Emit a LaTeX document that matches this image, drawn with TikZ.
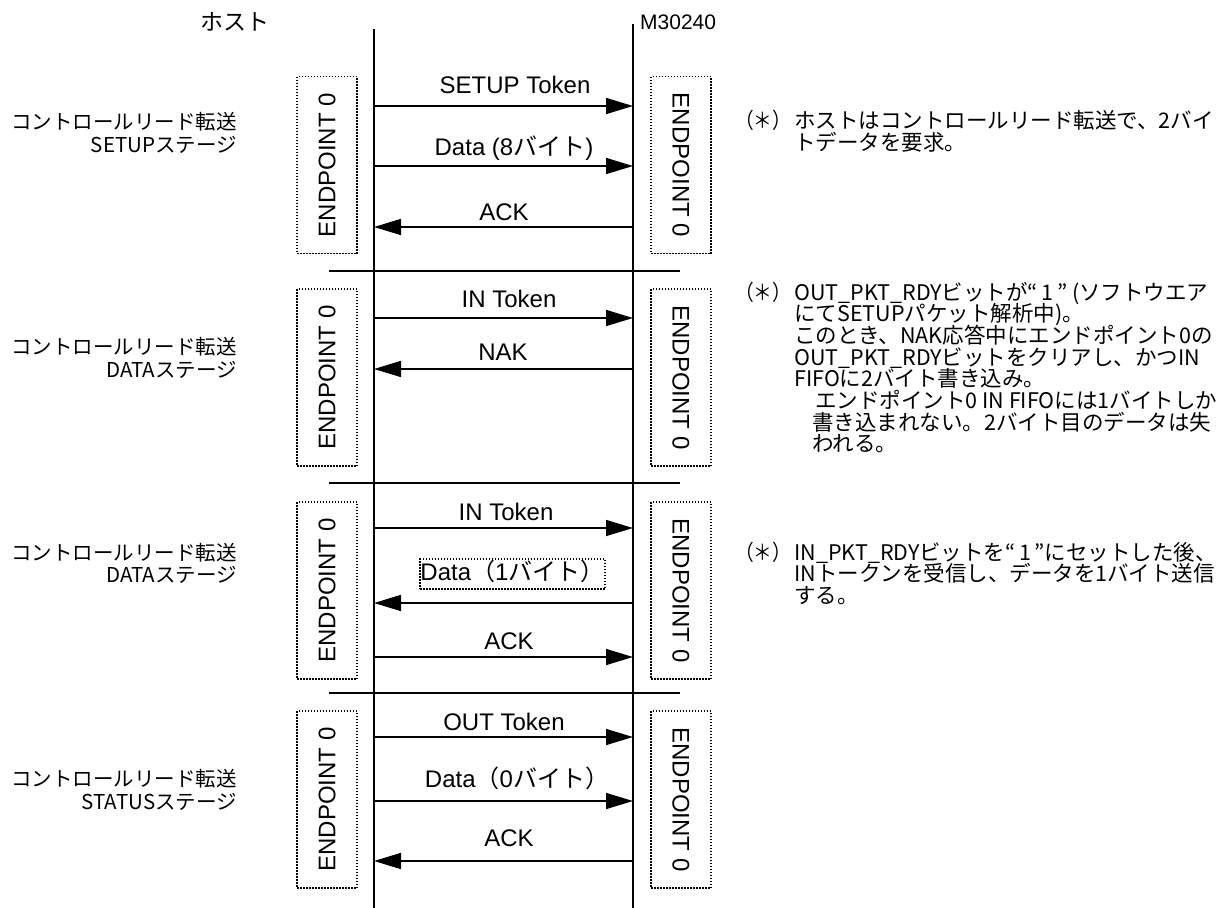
\documentclass[tikz,border=0pt]{standalone}
\usepackage{fontspec}
\setmainfont{Liberation Sans}
\newfontfamily\jp{Noto Sans CJK JP}
\usetikzlibrary{arrows.meta}
\begin{document}
\begin{tikzpicture}[x=1pt,y=-1pt,
  life/.style={line width=1.6pt},
  sepline/.style={line width=1.6pt},
  msg/.style={line width=1.6pt,-{Triangle[length=27pt,width=16pt]}},
  dotbox/.style={draw,line width=1.5pt,dash pattern=on 1.5pt off 1.5pt},
  epbox/.style={dotbox,minimum width=177pt,minimum height=60pt,inner sep=0pt,font=\fontsize{24}{28}\selectfont},
  lbl/.style={anchor=base,font=\fontsize{24}{28}\selectfont,inner sep=0pt},
  stage/.style={anchor=base east,font=\jp\fontsize{20.5}{24}\selectfont,inner sep=0pt},
  note/.style={anchor=base west,font=\jp\fontsize{21.5}{26}\selectfont,inner sep=0pt},
  star/.style={anchor=base west,font=\jp\fontsize{21.5}{26}\selectfont,inner sep=0pt},
]
\useasboundingbox (0,0) rectangle (1227,908);

% headers
\node[font=\jp\fontsize{23}{26}\selectfont,inner sep=0pt] (host) at (235,22) {ホスト};
\node[anchor=base west,font=\fontsize{21}{24}\selectfont,inner sep=0pt] (dev) at (640,29.5) {M30240};

% lifelines
\coordinate (htop) at (374,29);
\coordinate (hbot) at (374,908);
\coordinate (dtop) at (633,24);
\coordinate (dbot) at (633,908);
\draw[life] (htop) -- (hbot);
\draw[life] (dtop) -- (dbot);

% separators
\draw[sepline] (329,271) -- (680,271);
\draw[sepline] (329,483) -- (680,483);
\draw[sepline] (329,693) -- (680,693);

% endpoint boxes
\node[epbox,rotate=90] (el1) at (327,165) {ENDPOINT 0};
\node[epbox,rotate=-90] (er1) at (681,165) {ENDPOINT 0};
\node[epbox,rotate=90] (el2) at (327,377.5) {ENDPOINT 0};
\node[epbox,rotate=-90] (er2) at (681,377.5) {ENDPOINT 0};
\node[epbox,rotate=90] (el3) at (327,590.5) {ENDPOINT 0};
\node[epbox,rotate=-90] (er3) at (681,590.5) {ENDPOINT 0};
\node[epbox,rotate=90] (el4) at (327,799.5) {ENDPOINT 0};
\node[epbox,rotate=-90] (er4) at (681,799.5) {ENDPOINT 0};

% stage labels
\node[stage] (s1a) at (237,129.8) {コントロールリード転送};
\node[stage] (s1b) at (237,152.8) {SETUPステージ};
\node[stage] (s2a) at (237,354.8) {コントロールリード転送};
\node[stage] (s2b) at (237,377.8) {DATAステージ};
\node[stage] (s3a) at (237,560.8) {コントロールリード転送};
\node[stage] (s3b) at (237,582.8) {DATAステージ};
\node[stage] (s4a) at (237,786.8) {コントロールリード転送};
\node[stage] (s4b) at (237,809.8) {STATUSステージ};

% messages: section 1
\coordinate (h1) at (374,106); \coordinate (d1) at (633,106);
\coordinate (h2) at (374,166); \coordinate (d2) at (633,166);
\coordinate (h3) at (374,227); \coordinate (d3) at (633,227);
\draw[msg] (h1) -- (d1);
\draw[msg] (h2) -- (d2);
\draw[msg] (d3) -- (h3);
\node[lbl] (m1) at (515,93.5) {SETUP Token};
\node[lbl] (m2) at (514,155.5) {Data (8{\jp バイト})};
\node[lbl] (m3) at (504,220.5) {ACK};

% section 2
\coordinate (h4) at (374,318); \coordinate (d4) at (633,318);
\coordinate (h5) at (374,369); \coordinate (d5) at (633,369);
\draw[msg] (h4) -- (d4);
\draw[msg] (d5) -- (h5);
\node[lbl] (m4) at (509,307.5) {IN Token};
\node[lbl] (m5) at (503,360.5) {NAK};

% section 3
\coordinate (h6) at (374,528); \coordinate (d6) at (633,528);
\coordinate (h7) at (374,603); \coordinate (d7) at (633,603);
\coordinate (h8) at (374,657); \coordinate (d8) at (633,657);
\draw[msg] (h6) -- (d6);
\draw[msg] (d7) -- (h7);
\draw[msg] (h8) -- (d8);
\node[lbl] (m6) at (506,520.5) {IN Token};
\node[dotbox,minimum width=185pt,minimum height=30pt,inner sep=0pt,text height=17pt,text depth=5pt,font=\fontsize{24}{28}\selectfont] (m7) at (512.5,574) {Data{\jp （}1{\jp バイト）}};
\node[lbl] (m8) at (509,649.5) {ACK};

% section 4
\coordinate (h9) at (374,737); \coordinate (d9) at (633,737);
\coordinate (h10) at (374,801); \coordinate (d10) at (633,801);
\coordinate (h11) at (374,861); \coordinate (d11) at (633,861);
\draw[msg] (h9) -- (d9);
\draw[msg] (h10) -- (d10);
\draw[msg] (d11) -- (h11);
\node[lbl] (m9) at (504,730.5) {OUT Token};
\node[lbl] (m10) at (517,787.5) {Data{\jp （}0{\jp バイト）}};
\node[lbl] (m11) at (509,846.5) {ACK};

% notes
\node[star] (n1s) at (735,128) {\scalebox{0.87}[1]{（＊）}};
\node[note] (n1a) at (794,128) {ホストはコントロールリード転送で、2バイ};
\node[note] (n1b) at (794,150) {トデータを要求。};

\node[star] (n2s) at (735,300) {\scalebox{0.87}[1]{（＊）}};
\node[note] (n2a) at (794,300) {OUT\_PKT\_RDYビットが“\,1\,” (ソフトウエア};
\node[note] (n2b) at (794,321) {にてSETUPパケット解析中)。};
\node[note] (n2c) at (794,343) {このとき、NAK応答中にエンドポイント0の};
\node[note] (n2d) at (794,365) {OUT\_PKT\_RDYビットをクリアし、かつIN};
\node[note] (n2e) at (794,386) {FIFOに2バイト書き込み。};
\node[note] (n2f) at (815,408) {エンドポイント0 IN FIFOには1バイトしか};
\node[note] (n2g) at (812,430) {書き込まれない。2バイト目のデータは失};
\node[note] (n2h) at (812,451) {われる。};

\node[star] (n3s) at (735,560) {\scalebox{0.87}[1]{（＊）}};
\node[note] (n3a) at (794,560) {IN\_PKT\_RDYビットを“\,1\,”にセットした後、};
\node[note] (n3b) at (794,581) {INトークンを受信し、データを1バイト送信};
\node[note] (n3c) at (794,603) {する。};
\end{tikzpicture}
\end{document}
